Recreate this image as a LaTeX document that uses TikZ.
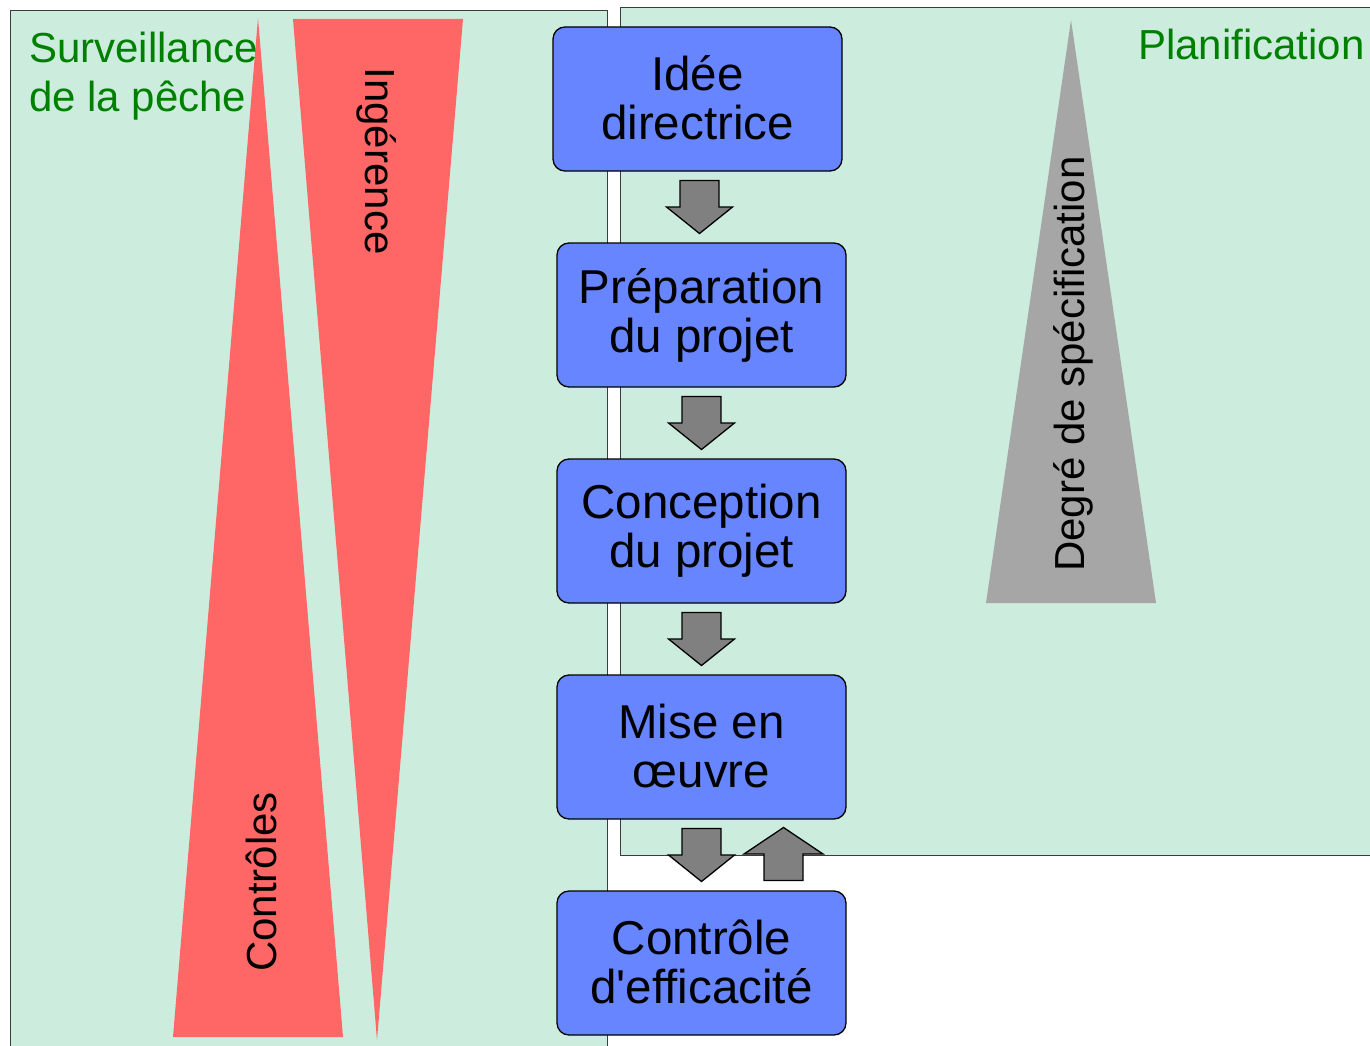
\documentclass[tikz,border=0pt]{standalone}
\usepackage{fontspec}
\setmainfont{Liberation Sans}
\usetikzlibrary{calc}
\definecolor{panelgreen}{RGB}{204,236,222}
\definecolor{panelline}{RGB}{60,60,60}
\definecolor{boxblue}{RGB}{102,133,255}
\definecolor{wedgered}{RGB}{255,102,102}
\definecolor{wedgegrey}{RGB}{166,166,166}
\definecolor{arrowgrey}{RGB}{128,128,128}
\definecolor{titlegreen}{RGB}{0,128,0}
\tikzset{
  panel/.style={fill=panelgreen, draw=panelline, line width=1pt},
  stage/.style={draw=black, line width=1.3pt, fill=boxblue, rounded corners=12pt,
    minimum width=289pt, minimum height=144pt, align=center, inner sep=0pt,
    font=\fontsize{47.5}{49}\selectfont},
  title/.style={text=titlegreen, inner sep=0pt, font=\fontsize{42}{49}\selectfont},
  wedgelabel/.style={inner sep=0pt, font=\fontsize{42}{49}\selectfont},
  blockarrow/.style={fill=arrowgrey, draw=black, line width=1.3pt, line join=miter},
  downarr/.pic={\draw[blockarrow] (-19.5,-26.5) -- (19.5,-26.5) -- (19.5,0) -- (33,0) -- (0,26.5) -- (-33,0) -- (-19.5,0) -- cycle;},
  uparr/.pic={\draw[blockarrow] (-19.5,26.5) -- (19.5,26.5) -- (19.5,0) -- (39.5,0) -- (0,-26.5) -- (-39.5,0) -- (-19.5,0) -- cycle;}
}
\begin{document}
\begin{tikzpicture}[x=1pt,y=-1pt]
\useasboundingbox (0,0) rectangle (1370,1046);
\clip (0,0) rectangle (1370,1046);
% panels
\draw[panel] (10,11) rectangle (607,1060);
\draw[panel] (620,8) rectangle (1385,855);
% wedges
\fill[wedgered] (258,18) -- (343,1037) -- (173,1037) -- cycle;
\fill[wedgered] (293,19) -- (463,19) -- (377,1040) -- cycle;
\fill[wedgegrey] (1071,20) -- (1156,603) -- (986,603) -- cycle;
% titles
\node[title, anchor=north west, align=left] (surv) at (29,32) {Surveillance\\de la pêche};
\node[title, anchor=base west] (plan) at (1138,60) {Planification};
% wedge labels
\node[wedgelabel, rotate=-90] (ing) at (377,161) {Ingérence};
\node[wedgelabel, rotate=90] (ctl) at (261,882) {Contrôles};
\node[wedgelabel, rotate=90] (deg) at (1073,364) {Degré de spécification};
% stages
\node[stage] (b1) at (697.5,99) {\raisebox{2pt}{Idée}\\\raisebox{2pt}{directrice}};
\node[stage] (b2) at (701.5,315) {\raisebox{2pt}{Préparation}\\\raisebox{2pt}{du projet}};
\node[stage] (b3) at (701.5,531) {\raisebox{2pt}{Conception}\\\raisebox{2pt}{du projet}};
\node[stage] (b4) at (701.5,747) {\raisebox{2pt}{Mise en}\\\raisebox{2pt}{œuvre}};
\node[stage] (b5) at (701.5,963) {\raisebox{2pt}{Contrôle}\\\raisebox{2pt}{d\textquotesingle efficacité}};
% arrows
\pic at ($(b1.south)!0.5!(b2.north)$) {downarr};
\pic at ($(b2.south)!0.5!(b3.north)$) {downarr};
\pic at ($(b3.south)!0.5!(b4.north)$) {downarr};
\pic at ($(b4.south)!0.5!(b5.north)$) {downarr};
\pic at ($($(b4.south)!0.5!(b5.north)$)+(82,-1)$) {uparr};
\end{tikzpicture}
\end{document}
